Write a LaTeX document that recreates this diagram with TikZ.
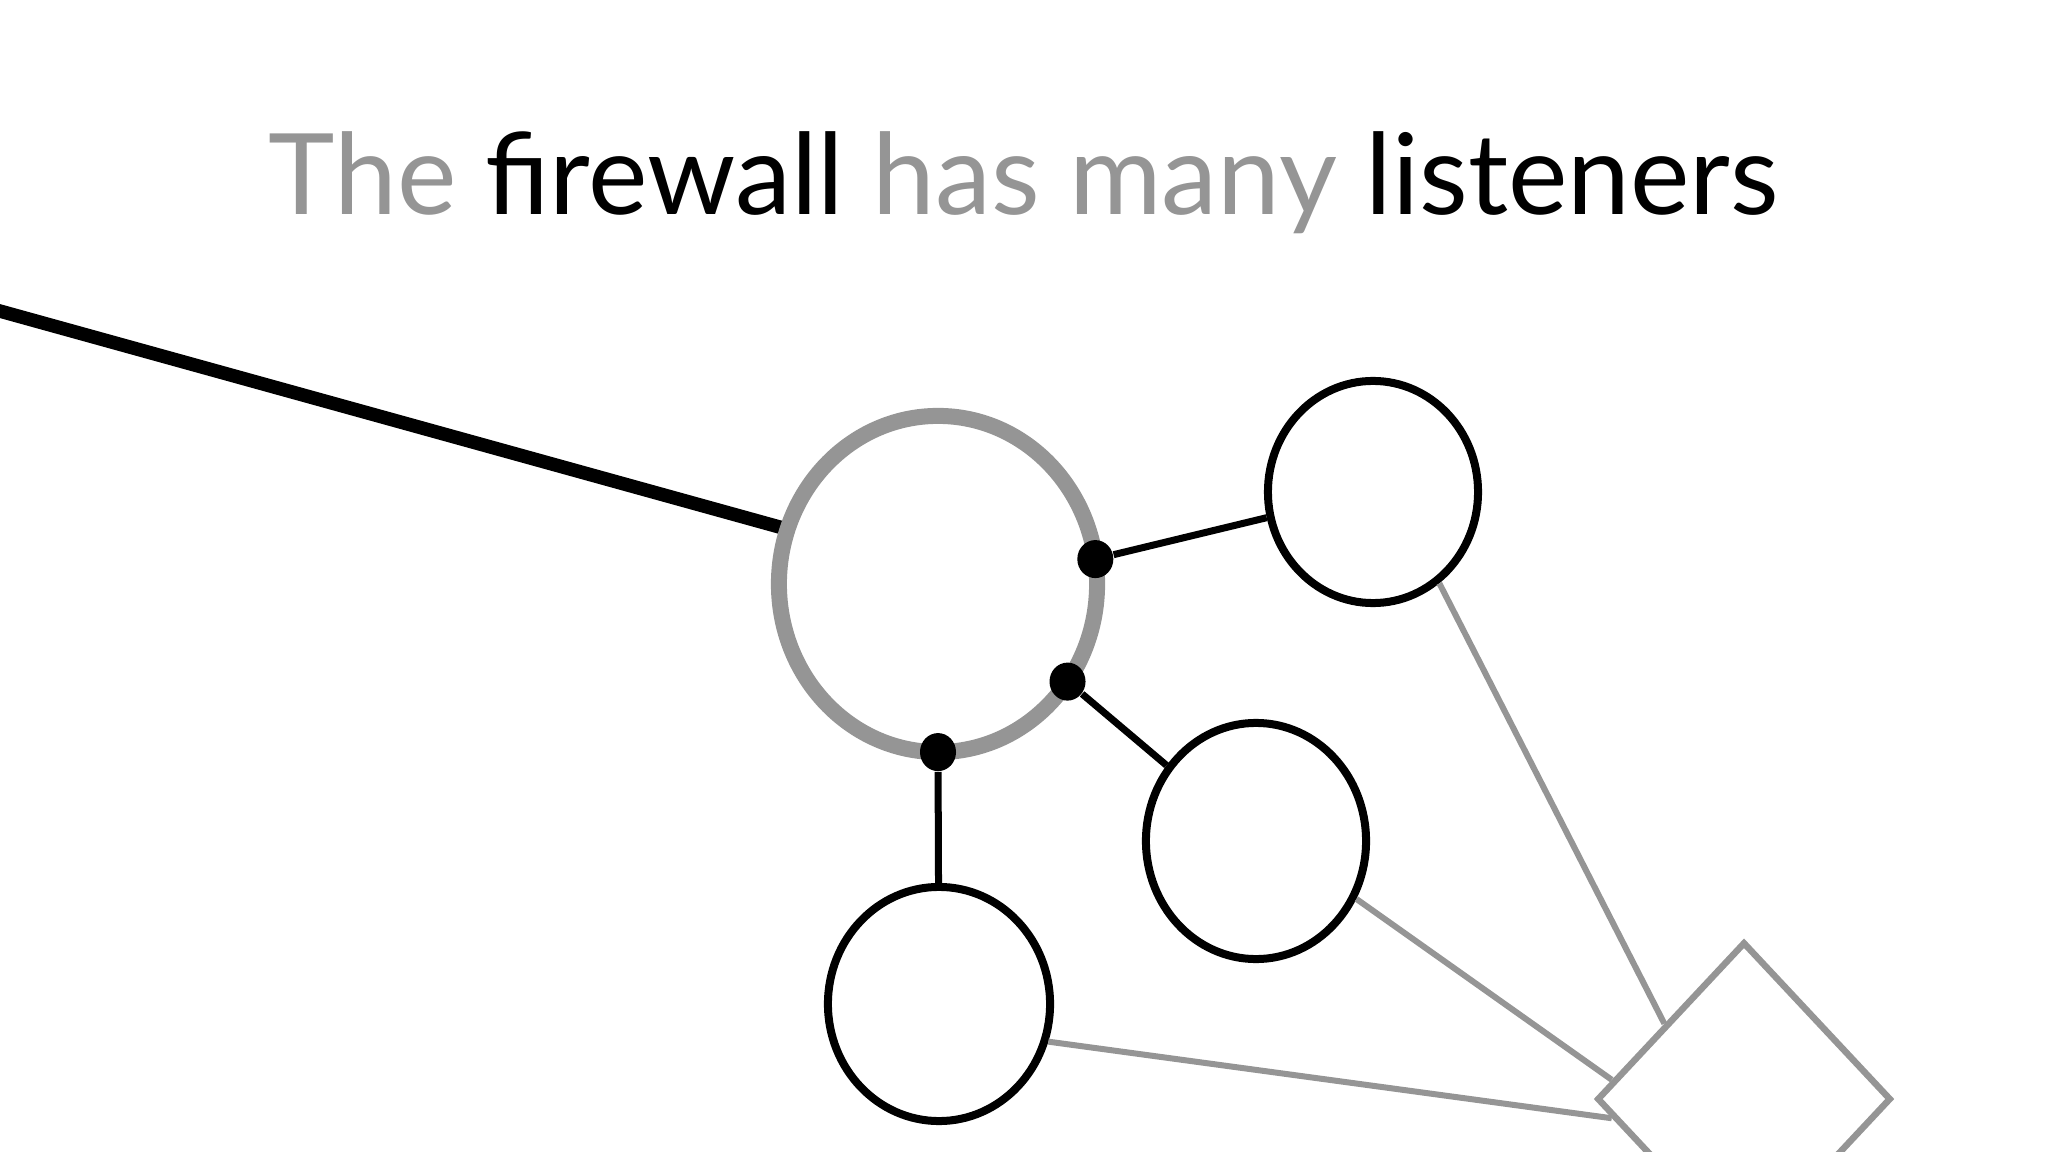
\documentclass[tikz,border=0pt]{standalone}
\usepackage{fontspec}
\setmainfont{Lato}
\usetikzlibrary{shapes.geometric,calc,backgrounds}
\definecolor{wallgray}{RGB}{149,149,149}
\tikzset{
  wall/.style={ellipse,draw=wallgray,line width=0.16cm,inner sep=0,outer sep=0,
    minimum width=3.18cm,minimum height=3.36cm},
  listener/.style={ellipse,draw=black,line width=0.08cm,inner sep=0},
  port/.style={ellipse,fill=black,inner sep=0,minimum width=0.36cm,minimum height=0.38cm},
  gate/.style={diamond,draw=wallgray,line width=0.065cm,inner sep=0,
    minimum width=2.94cm,minimum height=3.14cm},
  link/.style={draw=wallgray,line width=0.06cm},
  plug/.style={draw=black,line width=0.07cm}
}

\begin{document}
\begin{tikzpicture}[x=0.01cm,y=-0.01cm]
    \useasboundingbox (0,0) rectangle (2048,1152);
    \node[anchor=base,font=\fontsize{32}{40}\selectfont,inner sep=0] (title) at (1024,215)
      {\textcolor{wallgray}{The} firewall \textcolor{wallgray}{has many} listeners};
    % firewall and its listeners
    \node[wall] (fw) at (938,584) {};
    \node[listener,minimum width=2.10cm,minimum height=2.22cm] (up) at (1373,492) {};
    \node[listener,minimum width=2.20cm,minimum height=2.36cm] (mid) at (1256,841) {};
    \node[listener,minimum width=2.22cm,minimum height=2.34cm] (low) at (939,1004) {};
    \node[gate] (gw) at (1744,1099) {};
    \coordinate (src) at (-40,300);
    \begin{scope}[on background layer]
      \draw[line width=0.135cm] (src) -- (fw.160);
    \end{scope}
    \draw[link] (up.-54) -- ($(gw.west)!0.47!(gw.north)$);
    \draw[link] (mid.-30) -- ($(gw.west)!0.12!(gw.north)$);
    \draw[link] (low.-19) -- ($(gw.west)!0.12!(gw.south)$);
    \foreach \a/\p/\l in {9/p1/up,-37/p2/mid,-90/p3/low}{
      \node[port] (\p) at (fw.\a) {};
      \draw[plug] (\p) -- (\l);}
\end{tikzpicture}
\end{document}
